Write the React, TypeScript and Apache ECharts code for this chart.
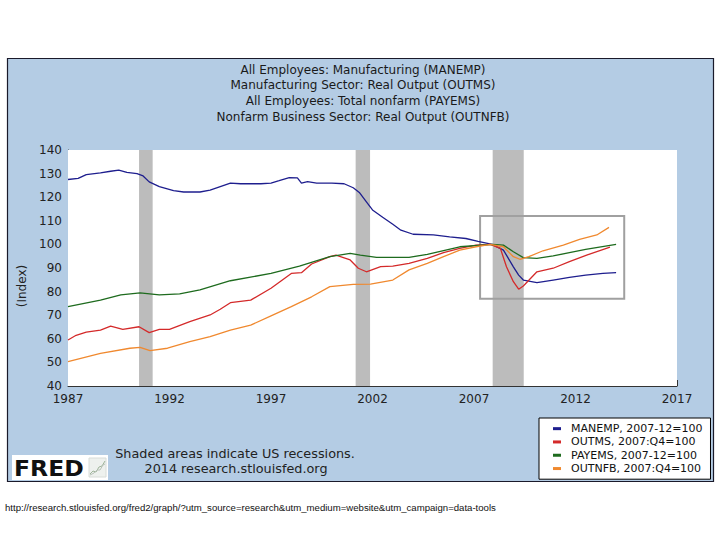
import React, { useEffect, useRef } from "react";
import * as echarts from "echarts";

const titleLines = [
  "All Employees: Manufacturing (MANEMP)",
  "Manufacturing Sector: Real Output (OUTMS)",
  "All Employees: Total nonfarm (PAYEMS)",
  "Nonfarm Business Sector: Real Output (OUTNFB)",
];

const seriesNames = [
  "MANEMP, 2007-12=100",
  "OUTMS, 2007:Q4=100",
  "PAYEMS, 2007-12=100",
  "OUTNFB, 2007:Q4=100",
];
const seriesColors = ["#1e1e8e", "#d42a2a", "#1e6b1e", "#f0892f"];

const manempYears = [1987.0, 1987.5, 1987.9, 1988.6, 1989.1, 1989.5, 1989.9, 1990.4, 1990.7, 1991.0, 1991.5, 1992.2, 1992.7, 1993.5, 1994.0, 1994.5, 1995.0, 1995.5, 1996.5, 1997.0, 1997.4, 1997.9, 1998.3, 1998.5, 1998.8, 1999.25, 2000.0, 2000.6, 2001.05, 2001.35, 2001.7, 2002.0, 2002.5, 2003.0, 2003.4, 2004.0, 2005.0, 2005.8, 2006.6, 2007.2, 2007.9, 2008.45, 2008.94, 2009.2, 2009.43, 2010.1, 2010.9, 2011.7, 2012.5, 2013.35, 2014.0];
const manempValues = [127.5, 128.0, 129.6, 130.3, 131.0, 131.5, 130.5, 130.0, 129.0, 126.5, 124.5, 122.8, 122.2, 122.2, 123.0, 124.5, 126.0, 125.7, 125.7, 126.0, 127.0, 128.3, 128.2, 126.0, 126.6, 126.0, 126.0, 125.7, 124.0, 122.0, 118.0, 114.6, 111.5, 108.5, 106.0, 104.3, 104.0, 103.2, 102.5, 101.3, 100.0, 97.6, 90.5, 87.0, 84.9, 83.8, 84.9, 86.0, 87.0, 87.7, 88.0];

const outmsYears = [1987.0, 1987.4, 1987.9, 1988.6, 1989.1, 1989.7, 1990.5, 1991.0, 1991.5, 1992.0, 1993.0, 1994.0, 1994.5, 1995.0, 1996.0, 1997.0, 1998.0, 1998.5, 1999.0, 1999.9, 2000.2, 2000.9, 2001.3, 2001.7, 2002.4, 2003.0, 2003.8, 2004.7, 2005.5, 2006.3, 2007.1, 2007.8, 2008.3, 2008.6, 2008.94, 2009.2, 2009.43, 2010.1, 2010.9, 2011.7, 2012.55, 2013.7];
const outmsValues = [59.5, 61.5, 62.8, 63.7, 65.4, 64.0, 65.1, 62.6, 64.0, 64.0, 67.3, 70.1, 72.5, 75.3, 76.4, 81.4, 87.7, 88.0, 91.7, 94.8, 95.5, 93.4, 89.9, 88.4, 90.6, 90.8, 92.0, 94.1, 96.5, 98.3, 99.7, 100.0, 98.3, 90.5, 84.2, 81.0, 82.4, 88.4, 89.9, 92.7, 95.5, 98.8];

const payemsYears = [1987.0, 1988.6, 1989.6, 1990.55, 1991.5, 1992.5, 1993.5, 1995.0, 1997.0, 1998.4, 1999.9, 2000.9, 2001.4, 2002.2, 2003.8, 2004.7, 2006.3, 2007.9, 2008.45, 2008.94, 2009.43, 2010.1, 2010.9, 2011.7, 2012.5, 2014.0];
const payemsValues = [73.6, 76.4, 78.6, 79.5, 78.6, 79.0, 80.7, 84.6, 87.7, 90.8, 94.8, 96.2, 95.5, 94.5, 94.5, 95.8, 99.0, 100.0, 99.7, 96.9, 94.4, 94.1, 95.1, 96.5, 97.9, 100.0];

const outnfbYears = [1987.0, 1988.6, 1990.05, 1990.55, 1991.04, 1991.9, 1993.0, 1994.0, 1995.0, 1996.0, 1997.0, 1998.0, 1999.0, 1999.9, 2001.05, 2001.9, 2003.0, 2003.8, 2004.7, 2005.5, 2006.3, 2007.1, 2007.8, 2008.45, 2008.94, 2009.26, 2009.7, 2010.4, 2011.4, 2012.2, 2013.05, 2013.65];
const outnfbValues = [50.3, 53.8, 56.0, 56.4, 55.0, 56.0, 58.8, 60.9, 63.7, 65.8, 69.7, 73.6, 77.8, 82.1, 83.1, 83.2, 84.9, 89.2, 92.0, 94.8, 97.6, 99.0, 100.0, 99.0, 94.8, 93.7, 94.8, 97.3, 99.7, 102.1, 104.0, 107.2];

const recessionStarts = [1990.5, 2001.17, 2007.92];
const recessionEnds = [1991.17, 2001.88, 2009.45];

const highlightBox = { x0: 2007.3, x1: 2014.4, y0: 77, y1: 112 };

const yearTicks = { min: 1987, max: 2017, interval: 5 };
const valueTicks = { min: 40, max: 140, interval: 10 };

const footnoteLines = ["Shaded areas indicate US recessions.", "2014 research.stlouisfed.org"];
const urlText =
  "http://research.stlouisfed.org/fred2/graph/?utm_source=research&utm_medium=website&utm_campaign=data-tools";

const zip = (xs: number[], ys: number[]) => xs.map((x, i) => [x, ys[i]]);

export default function App() {
  const ref = useRef<HTMLDivElement>(null);
  useEffect(() => {
    document.body.style.margin = "0";
    if (!ref.current) return;
    const chart = echarts.init(ref.current, null, { renderer: "svg", width: 720, height: 540 });
    const font = "DejaVu Sans";
    const dataSets = [
      zip(manempYears, manempValues),
      zip(outmsYears, outmsValues),
      zip(payemsYears, payemsValues),
      zip(outnfbYears, outnfbValues),
    ];
    const lineSeries = dataSets.map((d, i) => ({
      name: seriesNames[i],
      type: "line",
      data: d,
      showSymbol: false,
      symbol: "none",
      z: 3,
      color: seriesColors[i],
      lineStyle: { color: seriesColors[i], width: 1.3 },
    }));
    const option: any = {
      animation: false,
      backgroundColor: "#ffffff",
      textStyle: { fontFamily: font },
      grid: {
        left: 68,
        right: 43,
        top: 150,
        bottom: 154,
        show: true,
        backgroundColor: "#ffffff",
        borderWidth: 0,
        z: 1,
      },
      xAxis: {
        type: "value",
        min: yearTicks.min,
        max: yearTicks.max,
        interval: yearTicks.interval,
        splitLine: { show: false },
        axisLine: { show: true, lineStyle: { color: "#333", width: 1 } },
        axisTick: { show: true, inside: true, length: 6, lineStyle: { color: "#333" } },
        axisLabel: {
          margin: 7,
          fontSize: 12,
          color: "#222",
          fontFamily: font,
          formatter: (v: number) => String(v),
        },
      },
      yAxis: {
        type: "value",
        min: valueTicks.min,
        max: valueTicks.max,
        interval: valueTicks.interval,
        splitLine: { show: true, lineStyle: { color: "#c2c2c2", width: 1 } },
        axisLine: { show: true, lineStyle: { color: "#333", width: 1 } },
        axisTick: { show: true, inside: true, length: 5, lineStyle: { color: "#333" } },
        axisLabel: { margin: 6, fontSize: 12, color: "#222", fontFamily: font },
      },
      legend: {
        data: seriesNames,
        orient: "vertical",
        left: 539,
        top: 418,
        backgroundColor: "#ffffff",
        borderColor: "#000",
        borderWidth: 1,
        borderRadius: 0,
        padding: [4, 8, 4, 14],
        itemWidth: 8,
        itemHeight: 3,
        itemGap: 0,
        icon: "rect",
        textStyle: { fontSize: 11, lineHeight: 13.3, color: "#111", fontFamily: font, padding: [0, 0, 0, 5] },
      },
      graphic: [
        {
          type: "rect",
          z: -10,
          silent: true,
          shape: { x: 7.5, y: 58.5, width: 706, height: 423 },
          style: { fill: "#b4cce4", stroke: "#1a1a2a", lineWidth: 1.2 },
        },
        {
          type: "text",
          z: 10,
          x: 363,
          y: 62,
          style: {
            text: titleLines.join("\n"),
            align: "center",
            verticalAlign: "top",
            fontSize: 12,
            lineHeight: 15.6,
            fontFamily: font,
            fill: "#1a1a1a",
          },
        },
        {
          type: "text",
          z: 10,
          x: 22,
          y: 286,
          rotation: Math.PI / 2,
          style: {
            text: "(Index)",
            align: "center",
            verticalAlign: "middle",
            fontSize: 12,
            fontFamily: font,
            fill: "#222",
          },
        },
        {
          type: "text",
          z: 10,
          x: 235,
          y: 453,
          style: {
            text: footnoteLines[0],
            align: "center",
            verticalAlign: "middle",
            fontSize: 12.8,
            fontFamily: font,
            fill: "#222",
          },
        },
        {
          type: "text",
          z: 10,
          x: 236,
          y: 468,
          style: {
            text: footnoteLines[1],
            align: "center",
            verticalAlign: "middle",
            fontSize: 12.8,
            fontFamily: font,
            fill: "#222",
          },
        },
        {
          type: "rect",
          z: 10,
          shape: { x: 12, y: 455, width: 96, height: 25 },
          style: { fill: "#ffffff" },
        },
        {
          type: "text",
          z: 11,
          x: 14,
          y: 468,
          scaleX: 1.12,
          style: {
            text: "FRED",
            align: "left",
            verticalAlign: "middle",
            fontSize: 21,
            fontWeight: "bold",
            fontFamily: font,
            fill: "#111",
          },
        },
        {
          type: "rect",
          z: 11,
          shape: { x: 89, y: 458, width: 17, height: 19 },
          style: { fill: "#eef1ee", stroke: "#d8dcd8", lineWidth: 1 },
        },
        {
          type: "polyline",
          z: 12,
          shape: { points: [[90, 474], [93, 471], [96, 472], [99, 467], [102, 466], [105, 461]] },
          style: { stroke: "#9fb59a", lineWidth: 1, fill: "none" },
        },
        {
          type: "polyline",
          z: 12,
          shape: { points: [[90, 475], [94, 473], [97, 470], [100, 470], [103, 465], [105, 464]] },
          style: { stroke: "#b8c2b8", lineWidth: 1, fill: "none" },
        },
        {
          type: "text",
          z: 10,
          x: 5,
          y: 507,
          style: {
            text: urlText,
            align: "left",
            verticalAlign: "middle",
            fontSize: 9.6,
            fontFamily: "Liberation Sans",
            fill: "#111",
          },
        },
      ],
      series: [
        {
          name: "recessions",
          type: "line",
          data: [],
          z: 1,
          silent: true,
          markArea: {
            silent: true,
            itemStyle: { color: "#bcbcbc" },
            data: recessionStarts.map((s, i) => [{ xAxis: s }, { xAxis: recessionEnds[i] }]),
          },
        },
        ...lineSeries,
        {
          name: "highlight",
          type: "line",
          data: [],
          z: 4,
          silent: true,
          markArea: {
            silent: true,
            itemStyle: { color: "rgba(0,0,0,0)", borderColor: "#a0a0a0", borderWidth: 2 },
            data: [[{ xAxis: highlightBox.x0, yAxis: highlightBox.y1 }, { xAxis: highlightBox.x1, yAxis: highlightBox.y0 }]],
          },
        },
      ],
    };
    chart.setOption(option);
    return () => chart.dispose();
  }, []);
  return <div ref={ref} style={{ width: 720, height: 540 }} />;
}
